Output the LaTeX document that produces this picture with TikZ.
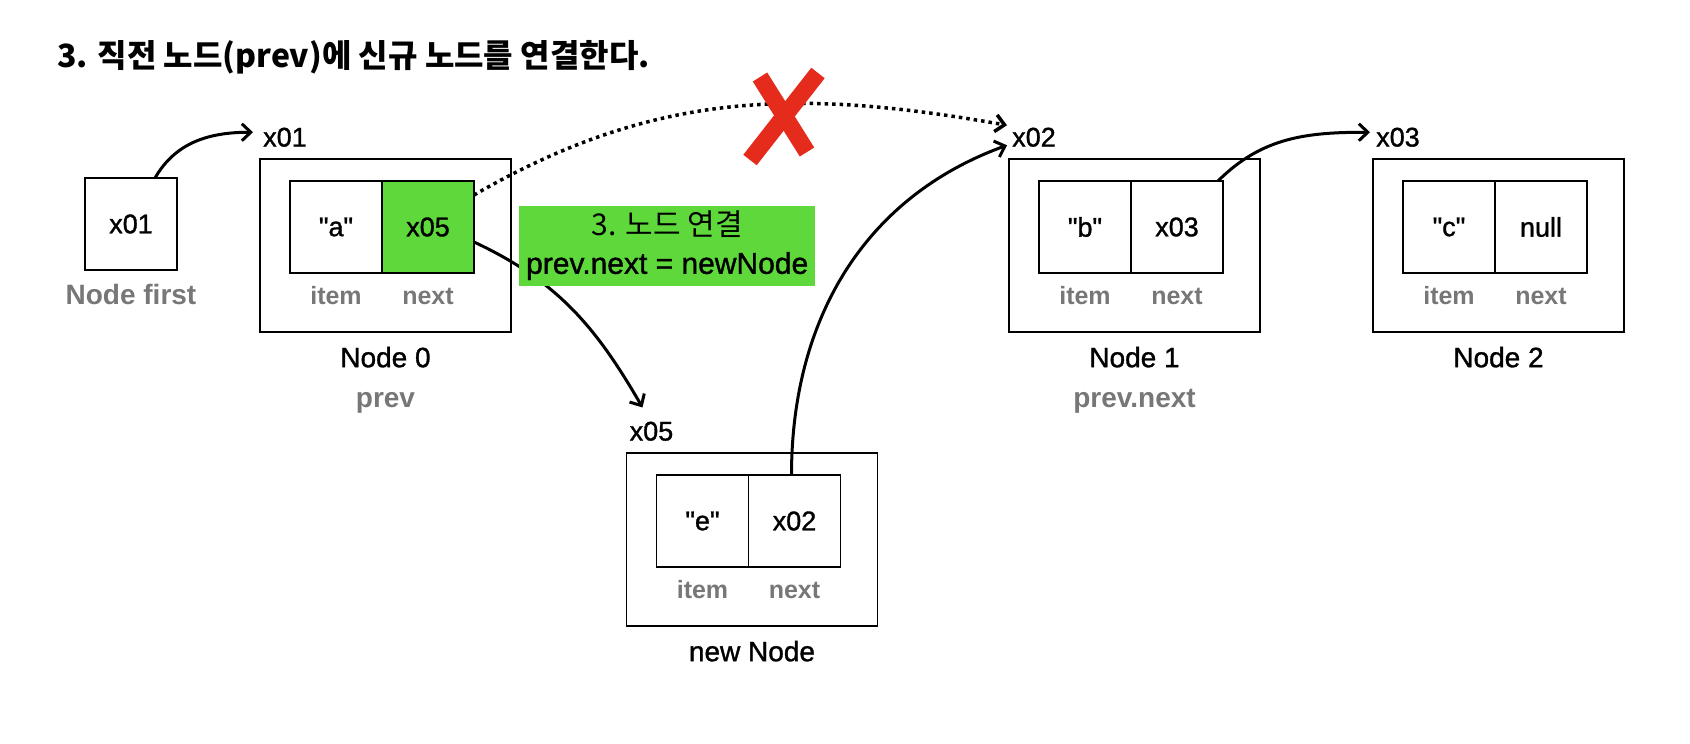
\documentclass[tikz,border=0pt]{standalone}
\usepackage{fontspec}
\setmainfont{Liberation Sans}
\newfontfamily\medfont{Liberation Sans}[FakeBold=1.2]
\newfontfamily\krfont{Noto Sans CJK KR}
\usepackage{xcolor}
\usetikzlibrary{positioning, arrows.meta}

\definecolor{linkgreen}{HTML}{5ED83A}
\definecolor{labelgray}{HTML}{777777}
\definecolor{crossred}{HTML}{E42B1C}

\begin{document}
\begin{tikzpicture}[x=1pt, y=1pt, >={Straight Barb[length=9pt, width=17pt]},
    outer/.style={draw, line width=1.8pt, minimum width=251pt, minimum height=173pt, outer sep=0pt},
    cell/.style={draw, line width=1.8pt, minimum size=92pt, inner sep=0pt, outer sep=0pt, font=\medfont\fontsize{27}{30}\selectfont},
    field/.style={inner sep=0pt, text=labelgray, font=\bfseries\fontsize{25}{28}\selectfont, text height=18pt, text depth=0pt},
    caption/.style={inner sep=0pt, font=\medfont\fontsize{28}{32}\selectfont, text height=20pt, text depth=6pt},
    role/.style={inner sep=0pt, text=labelgray, font=\bfseries\fontsize{28}{32}\selectfont, text height=20pt, text depth=6pt},
    addr/.style={inner sep=0pt, font=\medfont\fontsize{27}{30}\selectfont},
    link/.style={->, line width=3pt},
    note/.style={fill=linkgreen, minimum width=296pt, minimum height=80pt, inner sep=3pt, align=center, font=\medfont\fontsize{30}{38}\selectfont},
    cross/.style={line width=17pt, crossred}]

    \useasboundingbox (0,0) rectangle (1690,-744);

    % Title
    \node (title) [anchor=base west, inner sep=0pt, font=\krfont\bfseries\fontsize{32}{38}\selectfont] at (57,-67) {3. 직전 노드(prev)에 신규 노드를 연결한다.};

    % Draw first pointer
    \node (first) [cell] at (131,-224) {x01};
    \node (firstlbl) [role, below=14pt of first] {Node first};

    % Draw node boxes
    \node (n0) [outer] at (385.5,-245.5) {};
    \node (n1) [outer, right=498pt of n0] {};
    \node (n2) [outer, right=113pt of n1] {};
    \node (n5) [outer] at (752,-539.5) {};

    % Draw cells
    \node (n0item) [cell, below right=22pt and 30pt of n0.north west] {\textquotedbl a\textquotedbl};
    \node (n0next) [cell, fill=linkgreen, right=0pt of n0item] {x05};
    \node (n1item) [cell, below right=22pt and 30pt of n1.north west] {\textquotedbl b\textquotedbl};
    \node (n1next) [cell, right=0pt of n1item] {x03};
    \node (n2item) [cell, below right=22pt and 30pt of n2.north west] {\textquotedbl c\textquotedbl};
    \node (n2next) [cell, right=0pt of n2item] {null};
    \node (n5item) [cell, below right=22pt and 30pt of n5.north west] {\textquotedbl e\textquotedbl};
    \node (n5next) [cell, right=0pt of n5item] {x02};

    % Field names
    \node (n0itemlbl) [field, below=13pt of n0item] {item};
    \node (n0nextlbl) [field, below=13pt of n0next] {next};
    \node (n1itemlbl) [field, below=13pt of n1item] {item};
    \node (n1nextlbl) [field, below=13pt of n1next] {next};
    \node (n2itemlbl) [field, below=13pt of n2item] {item};
    \node (n2nextlbl) [field, below=13pt of n2next] {next};
    \node (n5itemlbl) [field, below=13pt of n5item] {item};
    \node (n5nextlbl) [field, below=13pt of n5next] {next};

    % Addresses
    \node (addr0) [addr, above right=12pt and 3pt of n0.north west] {x01};
    \node (addr1) [addr, above right=12pt and 3pt of n1.north west] {x02};
    \node (addr2) [addr, above right=12pt and 3pt of n2.north west] {x03};
    \node (addr5) [addr, above right=12pt and 3pt of n5.north west] {x05};

    % Captions
    \node (cap0) [caption, below=15pt of n0] {Node 0};
    \node (role0) [role, below=14pt of cap0] {prev};
    \node (cap1) [caption, below=15pt of n1] {Node 1};
    \node (role1) [role, below=14pt of cap1] {prev.next};
    \node (cap2) [caption, below=15pt of n2] {Node 2};
    \node (cap5) [caption, below=15pt of n5] {new Node};

    % Draw arrows
    \draw[link] ([xshift=24pt]first.north) to[out=60, in=180] ([xshift=-10pt, yshift=5pt]addr0.west);
    \draw[link, line width=3.5pt, dash pattern=on 3.5pt off 4pt] ([yshift=-14pt]n0next.north east) to[out=30, in=170] ([xshift=-5pt, yshift=12pt]addr1.west);
    \draw[link] ([yshift=-15pt]n0next.east) to[out=-25, in=120] ([xshift=13pt, yshift=14pt]addr5.north west);
    \draw[link] ([xshift=-3pt]n5next.north) to[out=90, in=200] ([xshift=-5pt, yshift=-8pt]addr1.west);
    \draw[link] ([xshift=-5pt]n1next.north east) to[out=45, in=180] ([xshift=-6pt, yshift=5pt]addr2.west);

    % Note on top of the new link
    \node (step3) [note, right=8pt of n0] {{\krfont 3. 노드 연결}\\prev.next = newNode};

    % Red cross over the old link
    \draw[cross] (760,-77) -- (807,-152);
    \draw[cross] (818,-73) -- (750,-160);

\end{tikzpicture}
\end{document}
